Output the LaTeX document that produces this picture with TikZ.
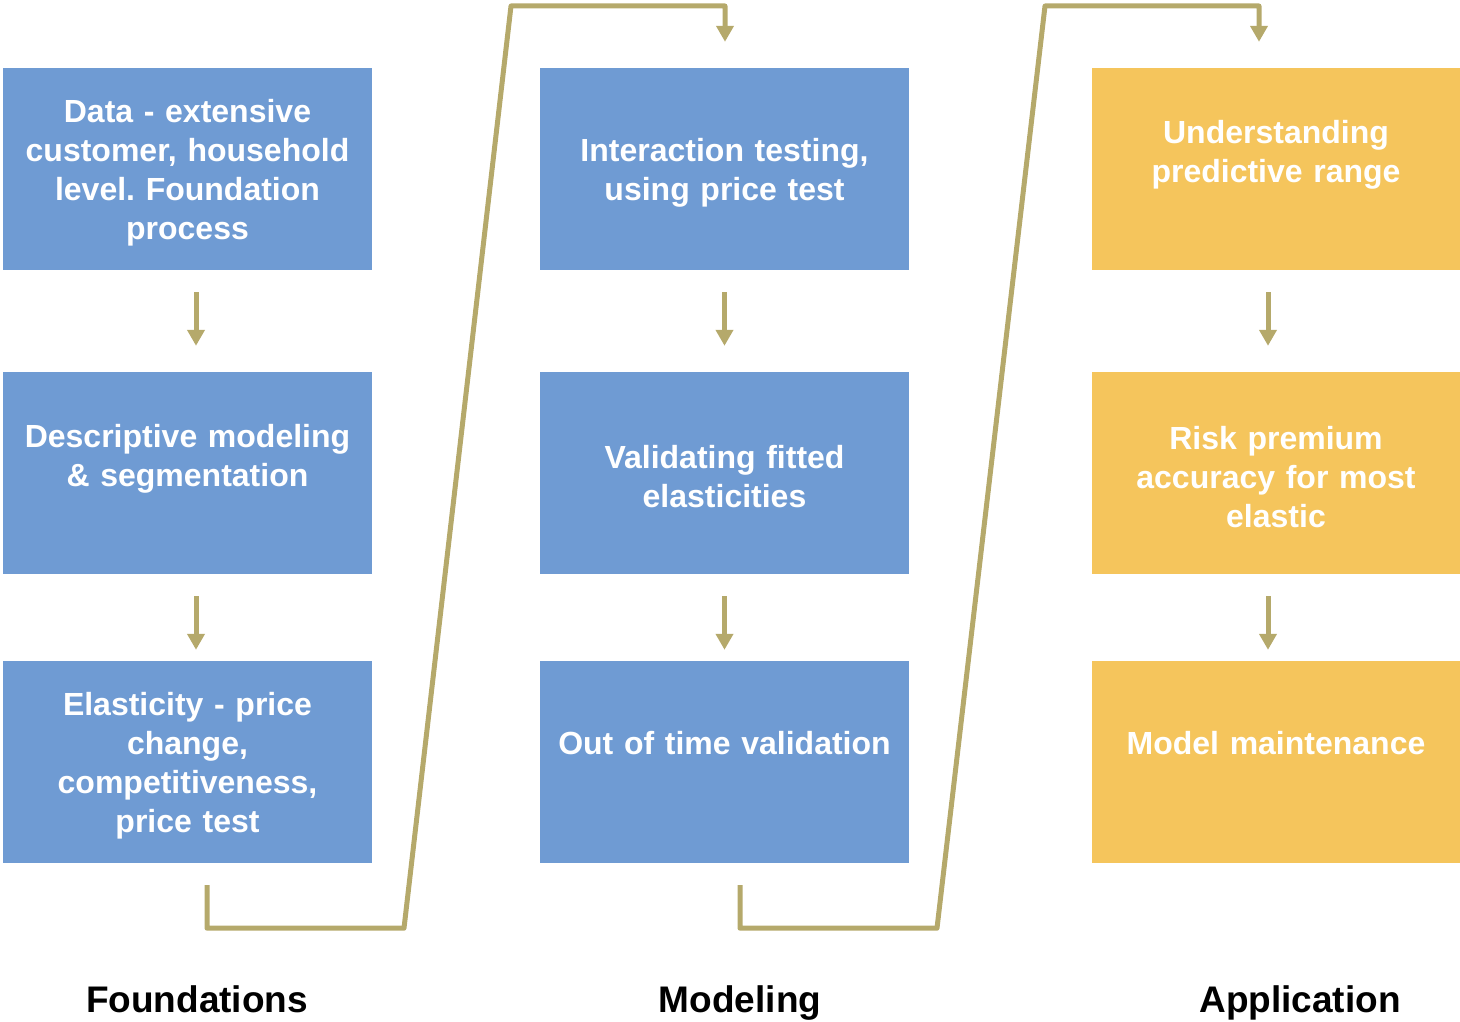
\documentclass[tikz,border=0pt]{standalone}
\usepackage{fontspec}
\setmainfont{Liberation Sans}
\usetikzlibrary{arrows.meta}
\frenchspacing
\definecolor{stepblue}{HTML}{6F9BD3}
\definecolor{stepgold}{HTML}{F5C55C}
\definecolor{flowline}{HTML}{B5A96B}
\tikzset{
  stepbox/.style={draw=none, minimum width=369pt, minimum height=202pt, inner sep=0pt},
  bluebox/.style={stepbox, fill=stepblue},
  goldbox/.style={stepbox, fill=stepgold},
  boxtext/.style={align=center, text width=350pt, inner sep=0pt, text=white, yshift=-4pt,
    font=\fontsize{32}{39}\selectfont\bfseries},
  lifted/.style={boxtext, yshift=18pt},
  single/.style={lifted, yshift=5pt},
  flow/.style={draw=flowline, line width=5pt, -{Triangle[width=17pt,length=16pt]}},
  link/.style={flow, line join=round},
  phase/.style={anchor=base, font=\fontsize{37}{44}\selectfont\bfseries}
}
\begin{document}
\begin{tikzpicture}[x=1pt, y=-1pt]
  \useasboundingbox (0,0) rectangle (1460,1022);
  % Foundations
  \node[bluebox, label={[boxtext]center:{Data - extensive\\customer, household\\level. Foundation\\process}}] (data) at (187.5,169) {};
  \node[bluebox, label={[lifted]center:{Descriptive modeling\\\& segmentation}}] (desc) at (187.5,473) {};
  \node[bluebox, label={[boxtext]center:{Elasticity - price\\change,\\competitiveness,\\price test}}] (elast) at (187.5,762) {};
  % Modeling
  \node[bluebox, label={[boxtext]center:{Interaction testing,\\using price test}}] (inter) at (724.5,169) {};
  \node[bluebox, label={[boxtext]center:{Validating fitted\\elasticities}}] (valid) at (724.5,473) {};
  \node[bluebox, label={[single]center:{Out of time validation}}] (oot) at (724.5,762) {};
  % Application
  \node[goldbox, label={[lifted]center:{Understanding\\predictive range}}] (range) at (1276,169) {};
  \node[goldbox, label={[boxtext]center:{Risk premium\\accuracy for most\\elastic}}] (risk) at (1276,473) {};
  \node[goldbox, label={[single]center:{Model maintenance}}] (maint) at (1276,762) {};

  \draw[flow] ([xshift=8.5pt,yshift=-22pt]data.south) -- ([xshift=8.5pt,yshift=26pt]desc.north);
  \draw[flow] ([xshift=8.5pt,yshift=-22pt]desc.south) -- ([xshift=8.5pt,yshift=11pt]elast.north);
  \draw[flow] ([yshift=-22pt]inter.south) -- ([yshift=26pt]valid.north);
  \draw[flow] ([yshift=-22pt]valid.south) -- ([yshift=11pt]oot.north);
  \draw[flow] ([xshift=-8pt,yshift=-22pt]range.south) -- ([xshift=-8pt,yshift=26pt]risk.north);
  \draw[flow] ([xshift=-8pt,yshift=-22pt]risk.south) -- ([xshift=-8pt,yshift=11pt]maint.north);

  \draw[link] ([xshift=19.5pt,yshift=-22pt]elast.south) -- ++(0,43) -- ++(197,0)
    -- (511,6) -- ([xshift=0.5pt]inter.north |- 0,6) -- ([xshift=0.5pt,yshift=26pt]inter.north);
  \draw[link] ([xshift=15.5pt,yshift=-22pt]oot.south) -- ++(0,43) -- ++(197,0)
    -- (1045,6) -- ([xshift=-17pt]range.north |- 0,6) -- ([xshift=-17pt,yshift=26pt]range.north);

  \node[phase] (found) at (197,1012) {Foundations};
  \node[phase] (model) at (740,1012) {Modeling};
  \node[phase] (appl) at (1300,1012) {Application};
\end{tikzpicture}
\end{document}
